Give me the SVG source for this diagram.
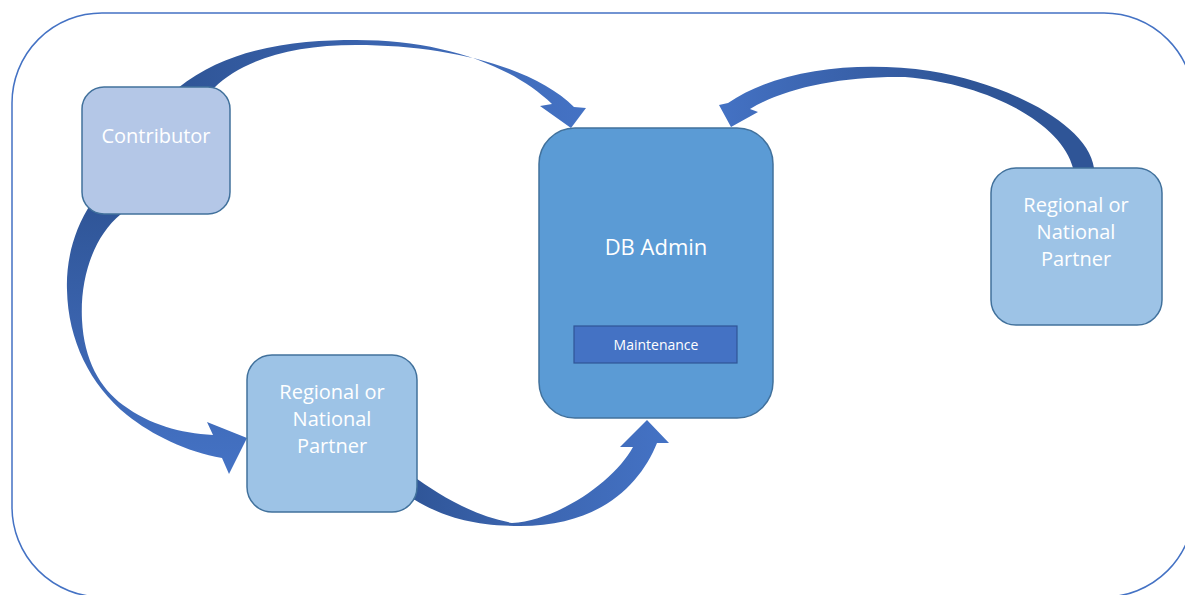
<svg xmlns="http://www.w3.org/2000/svg" width="1185" height="595" viewBox="0 0 1185 595">
  <style>
    .frame { fill: #ffffff; stroke: #4472C4; stroke-width: 1.5; }
    .box { stroke: #41719C; stroke-width: 1.5; }
    .contrib { fill: #B4C7E7; }
    .partner { fill: #9DC3E6; }
    .admin { fill: #5B9BD5; }
    .task { fill: #4472C4; stroke: #2F5597; stroke-width: 1.2; }
    .label { font-family: "Open Sans", "Liberation Sans", sans-serif; fill: #ffffff; text-anchor: middle; }
  </style>
  <defs>
    <linearGradient id="gTop" gradientUnits="userSpaceOnUse" x1="180" y1="0" x2="585" y2="0">
      <stop offset="0" stop-color="#2F5597"/>
      <stop offset="0.45" stop-color="#3A63AD"/>
      <stop offset="1" stop-color="#4472C4"/>
    </linearGradient>
    <linearGradient id="gRight" gradientUnits="userSpaceOnUse" x1="1095" y1="0" x2="720" y2="0">
      <stop offset="0" stop-color="#2F5597"/>
      <stop offset="0.35" stop-color="#2F5597"/>
      <stop offset="0.7" stop-color="#3A63AD"/>
      <stop offset="1" stop-color="#4472C4"/>
    </linearGradient>
    <linearGradient id="gLeft" gradientUnits="userSpaceOnUse" x1="0" y1="205" x2="0" y2="470">
      <stop offset="0" stop-color="#2F5597"/>
      <stop offset="0.45" stop-color="#3A63AD"/>
      <stop offset="1" stop-color="#4472C4"/>
    </linearGradient>
    <linearGradient id="gBottom" gradientUnits="userSpaceOnUse" x1="410" y1="0" x2="665" y2="0">
      <stop offset="0" stop-color="#2F5597"/>
      <stop offset="0.4" stop-color="#3A63AD"/>
      <stop offset="1" stop-color="#4472C4"/>
    </linearGradient>
  </defs>

  <rect width="1185" height="595" fill="#ffffff"/>
  <rect class="frame" x="12" y="13" width="1182" height="584" rx="90" ry="90"/>

  <!-- curved block arrows -->
  <g id="connectors">
    <!-- Contributor to DB Admin -->
    <path fill="url(#gTop)" d="M178,96 L178,88 C230,46 300,40 356,40 C440,40 510,64 552,104 L540,106 L571,128 L586,108 L574,107 C535,68 450,45 356,45 C292,45 242,60 214,88 L214,100 Z"/>
    <!-- Regional or National Partner (right) to DB Admin -->
    <path fill="url(#gRight)" d="M1094,180 L1094,168 C1088,125 1010,84 930,71 C860,61 780,68 728,103 L719,105 L731,127 L758,112 L750,109 C785,88 840,76 905,77 C990,84 1062,124 1073,168 L1073,180 Z"/>
    <!-- Contributor to Regional or National Partner (left) -->
    <path fill="url(#gLeft)" d="M100,196 L92,202 C72,232 66,264 67,290 C68,340 90,385 127,415 C152,435 187,452 222,458 L229,474 L247,438 L207,422 L213,435 C180,433 150,425 123,405 C100,388 84,360 82,320 C80,280 92,238 121,214 L125,196 Z"/>
    <!-- Regional or National Partner (left) to DB Admin -->
    <path fill="url(#gBottom)" d="M400,468 L413,476 C435,492 470,515 512,523 C560,520 615,480 633,447 L620,447 L647,420 L669,443 L657,443 C640,485 600,526 520,526 C470,526 440,515 415,500 L400,498 Z"/>
  </g>

  <g id="contributor">
    <rect class="box contrib" x="82" y="87" width="148" height="127" rx="22" ry="22"/>
    <text class="label" x="156" y="143" font-size="20">Contributor</text>
  </g>

  <g id="partner-left">
    <rect class="box partner" x="247" y="355" width="170" height="157" rx="25" ry="25"/>
    <text class="label" x="332" y="399" font-size="20">Regional or</text>
    <text class="label" x="332" y="426" font-size="20">National</text>
    <text class="label" x="332" y="453" font-size="20">Partner</text>
  </g>

  <g id="partner-right">
    <rect class="box partner" x="991" y="168" width="171" height="157" rx="25" ry="25"/>
    <text class="label" x="1076" y="212" font-size="20">Regional or</text>
    <text class="label" x="1076" y="239" font-size="20">National</text>
    <text class="label" x="1076" y="266" font-size="20">Partner</text>
  </g>

  <g id="db-admin">
    <rect class="box admin" x="539" y="128" width="234" height="290" rx="36" ry="36"/>
    <text class="label" x="656" y="255" font-size="22">DB Admin</text>
    <g id="maintenance">
      <rect class="task" x="574" y="326" width="163" height="37"/>
      <text class="label" x="656" y="350" font-size="14">Maintenance</text>
    </g>
  </g>
</svg>
